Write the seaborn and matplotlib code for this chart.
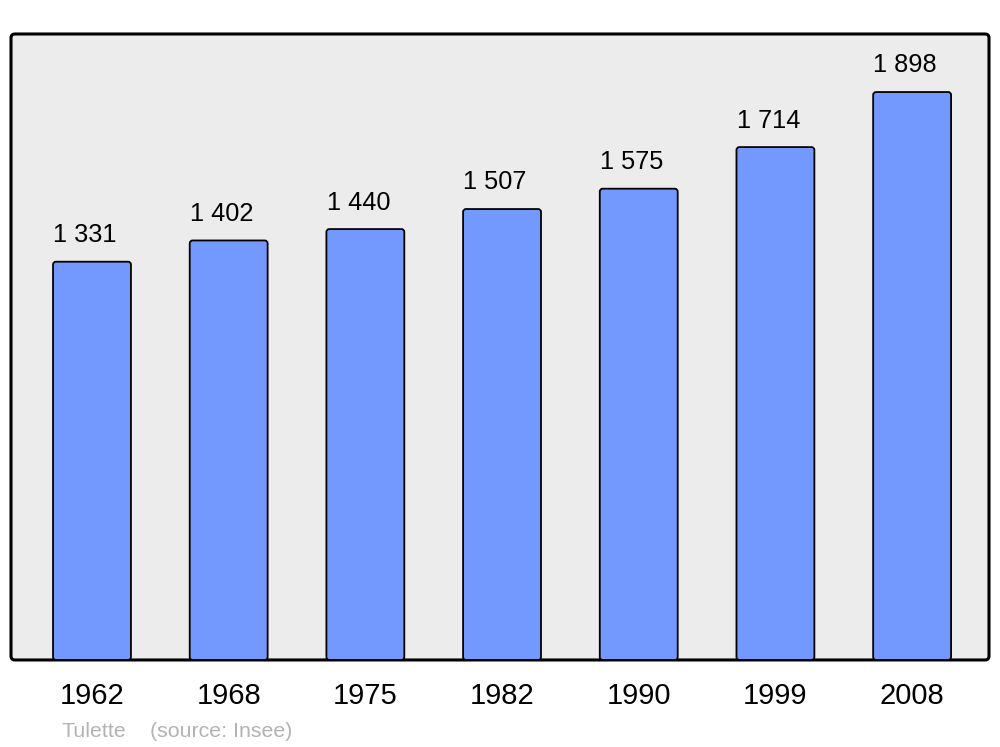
import matplotlib
matplotlib.use("Agg")
import matplotlib.pyplot as plt
from matplotlib.patches import FancyBboxPatch
import seaborn as sns
import pandas as pd

years = ["1962", "1968", "1975", "1982", "1990", "1999", "2008"]
population = [1331, 1402, 1440, 1507, 1575, 1714, 1898]
value_labels = ["1 331", "1 402", "1 440", "1 507", "1 575", "1 714", "1 898"]
commune = "Tulette"
source = "(source: Insee)"

sns.set_style("white")
plt.rcParams["font.family"] = ["Liberation Sans", "DejaVu Sans"]

df = pd.DataFrame({"year": years, "pop": population})

fig = plt.figure(figsize=(10, 7.47), dpi=100)
ax = fig.add_axes([0.011, 0.1165, 0.978, 0.838])

sns.barplot(data=df, x="year", y="pop", color="#7399ff", saturation=1,
            width=0.57, edgecolor="black", linewidth=1.3, ax=ax)

ax.set_xlim(-0.5925, 6.5625)
ax.set_ylim(0, 2092)
ax.set_xlabel("")
ax.set_ylabel("")
ax.set_yticks([])
ax.tick_params(axis="x", length=0, pad=16, labelsize=21, colors="black")

# value labels (slightly left of bar centre, as in the reference)
for p, lab in zip(ax.patches, value_labels):
    ax.annotate(lab, (p.get_x() + p.get_width() / 2, p.get_height()),
                xytext=(-5, 10.5), textcoords="offset points",
                ha="center", va="bottom", fontsize=18.3, color="black")

# rounded bars
fig.canvas.draw()
tr = ax.transData
px_x = tr.transform((1, 0))[0] - tr.transform((0, 0))[0]
px_y = tr.transform((0, 1))[1] - tr.transform((0, 0))[1]
for p in list(ax.patches):
    x, y = p.get_x(), p.get_y()
    w, h = p.get_width(), p.get_height()
    fb = FancyBboxPatch((x, y), w, h,
                        boxstyle=f"round,pad=0,rounding_size={3/px_x}",
                        mutation_aspect=px_x / px_y,
                        facecolor=p.get_facecolor(), edgecolor="black",
                        linewidth=1.3, zorder=2)
    p.set_visible(False)
    ax.add_patch(fb)

# rounded frame
ax.patch.set_visible(False)
for s in ax.spines.values():
    s.set_visible(False)
bbox = ax.get_window_extent()
frame = FancyBboxPatch((0, 0), 1, 1, transform=ax.transAxes,
                       boxstyle=f"round,pad=0,rounding_size={4/bbox.width}",
                       mutation_aspect=bbox.width / bbox.height,
                       facecolor="#ececec", edgecolor="black", linewidth=2.2,
                       zorder=0, clip_on=False)
ax.add_patch(frame)

fig.text(0.061, 0.0134, commune, fontsize=15.4, color="#b3b3b3", va="baseline")
fig.text(0.150, 0.0134, source, fontsize=15.4, color="#b3b3b3", va="baseline")

fig.savefig("out.png", dpi=100, facecolor="white")
